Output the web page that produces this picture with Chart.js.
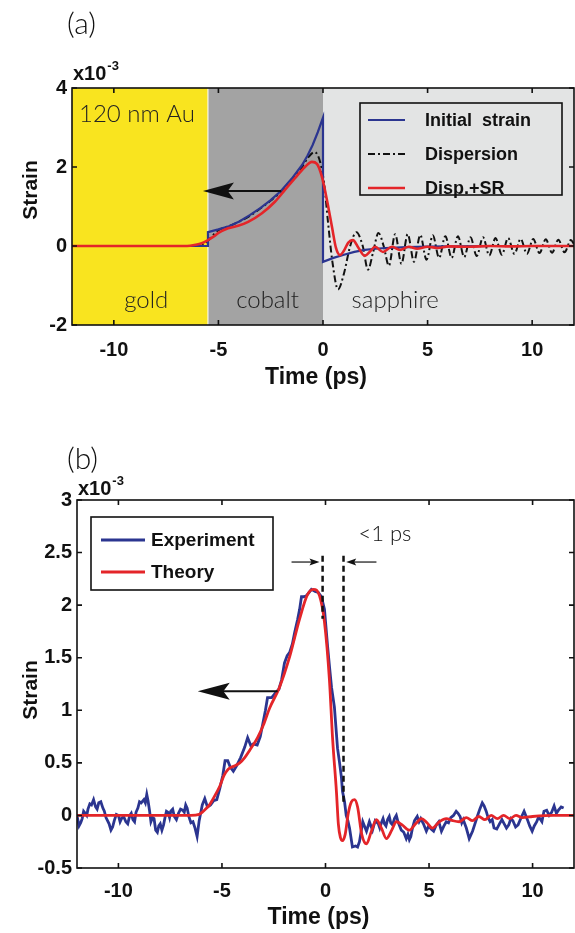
<!DOCTYPE html>
<html lang="en">
<head>
<meta charset="UTF-8">
<title>Strain pulses</title>
<script src="https://cdn.jsdelivr.net/npm/chart.js@4"></script>
<style>
    body { margin: 0; background: #fff; }
    #wrap { position: relative; width: 575px; height: 933px; }
    #wrap canvas { position: absolute; left: 0; }
    #chartA { top: 0; }
    #chartB { top: 440px; }
</style>
</head>
<body>
<div id="wrap">
    <canvas id="chartA" width="575" height="440"></canvas>
    <canvas id="chartB" width="575" height="493"></canvas>
</div>
<script>
// strain values are in units of 1e-3, time in ps
const timeTicks = [-10, -5, 0, 5, 10];
const strainTicksA = [-2, 0, 2, 4];
const strainTicksB = [-0.5, 0, 0.5, 1, 1.5, 2, 2.5, 3];

// panel (a): layers of the sample
const layerNames = ['gold', 'cobalt', 'sapphire'];
const layerEdges = [-12, -5.5, 0, 12];

// panel (a): initial strain
const initT = [-12, -5.5, -5.5, -5, -4.5, -4, -3.5, -3, -2.5, -2, -1.5, -1, -0.75, -0.5, -0.25, 0,
               0, 0.5, 1, 1.5, 2, 2.5, 3, 4, 5, 6, 8, 12];
const initV = [0, 0, 0.35, 0.42, 0.5, 0.62, 0.78, 0.96, 1.16, 1.4, 1.7, 2.05, 2.28, 2.55, 2.88, 3.25,
               -0.4, -0.3, -0.22, -0.15, -0.1, -0.07, -0.05, -0.03, -0.015, -0.01, 0, 0];

// panel (a): dispersion only
const dispT = [-12, -6.0, -5.6, -5.3, -5.0, -4.5, -4.0, -3.5, -3.0, -2.5,
               -2.0, -1.5, -1.0, -0.7, -0.4, -0.15, 0.05, 0.24, 0.45, 0.72,
               1.0, 1.3, 1.6, 1.9, 2.15, 2.4, 2.65, 2.9, 3.15, 3.45,
               3.75, 4.05, 4.35, 4.65, 4.95, 5.25, 5.55, 5.85, 6.15, 6.45,
               6.75, 7.05, 7.35, 7.65, 7.95, 8.25, 8.55, 8.85, 9.15, 9.45,
               9.75, 10.05, 10.35, 10.65, 10.95, 11.25, 11.55, 11.85, 12];
const dispV = [0, 0, 0.08, 0.25, 0.4, 0.5, 0.62, 0.76, 0.95, 1.15,
               1.38, 1.68, 2.0, 2.25, 2.38, 2.15, 1.6, 0.6, -0.4, -1.1,
               -0.7, 0.0, 0.35, 0.0, -0.6, -0.15, 0.33, 0.0, -0.5, 0.3,
               -0.45, 0.3, -0.4, 0.28, -0.35, 0.27, -0.3, 0.25, -0.3, 0.25,
               -0.28, 0.22, -0.25, 0.22, -0.24, 0.2, -0.22, 0.2, -0.2, 0.18,
               -0.2, 0.18, -0.18, 0.17, -0.17, 0.16, -0.16, 0.15, 0.05];

// panel (a): dispersion + surface roughness
const dsrT = [-12, -6.5, -6.1, -5.8, -5.5, -5.2, -5.0, -4.54, -4.06, -3.58,
              -2.92, -2.3, -1.82, -1.34, -0.86, -0.53, -0.29, -0.05, 0.19, 0.43,
              0.62, 0.81, 1.0, 1.2, 1.43, 1.7, 2.0, 2.25, 2.49, 2.87,
              3.3, 3.68, 4.1, 4.5, 5.0, 5.5, 6, 7, 8, 9, 10, 11, 12];
const dsrV = [0, 0, 0.03, 0.07, 0.15, 0.25, 0.33, 0.45, 0.51, 0.61,
              0.83, 1.12, 1.42, 1.72, 2.0, 2.13, 2.08, 1.75, 1.16, 0.48,
              -0.05, -0.23, -0.12, 0.08, 0.15, -0.05, -0.25, -0.14, -0.02, -0.15,
              -0.02, -0.1, -0.02, -0.07, -0.02, -0.05, -0.01, -0.02, 0, -0.01, 0, 0, 0];

// panel (b): experiment
const expT = [-12.0, -11.9, -11.82, -11.75, -11.68, -11.6, -11.53, -11.47, -11.38, -11.3,
              -11.2, -11.1, -11.03, -10.95, -10.85, -10.75, -10.68, -10.6, -10.45, -10.36,
              -10.28, -10.2, -10.1, -10.0, -9.92, -9.85, -9.75, -9.64, -9.55, -9.45,
              -9.38, -9.3, -9.22, -9.15, -9.06, -8.98, -8.9, -8.77, -8.7, -8.63,
              -8.57, -8.5, -8.43, -8.35, -8.28, -8.2, -8.12, -8.05, -7.98, -7.9,
              -7.82, -7.75, -7.68, -7.6, -7.53, -7.47, -7.38, -7.3, -7.2, -7.1,
              -7.0, -6.9, -6.82, -6.75, -6.68, -6.6, -6.5, -6.4, -6.3, -6.2,
              -6.1, -5.95, -5.83, -5.7, -5.55, -5.4, -5.25, -5.1, -4.96, -4.85,
              -4.72, -4.6, -4.45, -4.3, -4.1, -3.9, -3.76, -3.6, -3.5, -3.3,
              -3.15, -3.03, -2.9, -2.8, -2.6, -2.4, -2.25, -2.12, -1.98, -1.85,
              -1.73, -1.6, -1.49, -1.35, -1.25, -1.16, -1.05, -0.92, -0.8, -0.68,
              -0.5, -0.35, -0.2, -0.05, 0.1, 0.2, 0.29, 0.43, 0.58, 0.68,
              0.77, 0.82, 0.92, 1.0, 1.08, 1.16, 1.3, 1.45, 1.55, 1.64,
              1.8, 1.98, 2.12, 2.27, 2.4, 2.55, 2.62, 2.7, 2.78, 2.85,
              2.92, 3.0, 3.08, 3.15, 3.24, 3.33, 3.42, 3.5, 3.58, 3.66,
              3.78, 3.9, 3.98, 4.05, 4.12, 4.2, 4.3, 4.43, 4.52, 4.6,
              4.73, 4.87, 4.98, 5.1, 5.22, 5.35, 5.47, 5.6, 5.72, 5.83,
              5.94, 6.05, 6.18, 6.31, 6.4, 6.5, 6.58, 6.65, 6.8, 6.94,
              7.1, 7.2, 7.33, 7.45, 7.57, 7.66, 7.76, 7.85, 7.95, 8.05,
              8.14, 8.27, 8.4, 8.52, 8.63, 8.74, 8.85, 8.95, 9.05, 9.18,
              9.3, 9.45, 9.59, 9.67, 9.75, 9.86, 9.98, 10.08, 10.2, 10.28,
              10.35, 10.45, 10.55, 10.68, 10.8, 10.92, 11.04, 11.15, 11.25, 11.38,
              11.5];
const expV = [0.0, -0.1, -0.07, -0.03, 0.04, 0.02, 0.0, 0.06, 0.11, 0.1,
              0.15, 0.08, 0.06, 0.12, 0.13, 0.07, 0.04, -0.02, -0.08, -0.14,
              -0.11, -0.05, 0.01, 0.0, -0.06, -0.03, -0.01, -0.06, -0.08, 0.0,
              0.02, -0.04, -0.06, 0.03, 0.07, 0.13, 0.12, 0.15, 0.12, 0.2,
              0.14, 0.05, -0.06, -0.02, -0.03, -0.14, -0.16, -0.1, -0.08, -0.14,
              -0.09, -0.02, 0.04, 0.03, -0.02, 0.04, 0.06, -0.01, -0.04, 0.02,
              0.06, 0.05, 0.03, 0.1, 0.07, -0.01, -0.07, -0.06, -0.12, -0.2,
              -0.05, 0.1, 0.16, 0.08, 0.1, 0.14, 0.15, 0.26, 0.38, 0.52,
              0.52, 0.46, 0.42, 0.47, 0.55, 0.65, 0.74, 0.66, 0.68, 0.67,
              0.75, 0.87, 1.0, 1.12, 1.12, 1.17, 1.2, 1.29, 1.45, 1.52,
              1.55, 1.63, 1.74, 1.86, 1.96, 2.08, 2.08, 2.09, 2.12, 2.15,
              2.13, 2.12, 2.08, 1.96, 1.61, 1.4, 1.22, 1.03, 0.64, 0.5,
              0.36, 0.23, 0.13, 0.0, -0.05, -0.12, -0.3, -0.29, -0.3, -0.25,
              -0.06, -0.15, -0.06, -0.14, -0.05, -0.08, -0.12, -0.07, -0.03, -0.08,
              -0.1, -0.04, -0.01, -0.07, -0.09, -0.03, 0.0, -0.06, -0.1, -0.14,
              -0.16, -0.22, -0.18, -0.23, -0.2, -0.12, -0.05, -0.01, -0.06, -0.03,
              -0.08, -0.15, -0.1, -0.13, -0.15, -0.09, -0.06, -0.15, -0.1, -0.06,
              -0.07, -0.02, 0.0, 0.04, 0.02, -0.01, -0.07, -0.04, -0.12, -0.22,
              -0.15, -0.09, -0.01, 0.06, 0.12, 0.09, 0.04, -0.02, -0.06, -0.04,
              -0.12, -0.13, -0.08, -0.04, -0.08, -0.12, -0.09, -0.03, -0.05, -0.11,
              -0.09, -0.02, 0.04, 0.0, -0.04, -0.1, -0.15, -0.1, -0.06, -0.02,
              -0.03, -0.06, 0.04, 0.05, 0.0, 0.03, 0.09, 0.02, 0.05, 0.08,
              0.07];

// panel (b): theory
const theoT = [-12, -6.5, -6.1, -5.9, -5.6, -5.45, -5.1, -4.9, -4.7, -4.4,
               -4.14, -3.9, -3.66, -3.28, -3.0, -2.7, -2.22, -1.73, -1.25, -0.87,
               -0.58, -0.29, -0.05, 0.19, 0.34, 0.53, 0.62, 0.72, 0.82, 0.95,
               1.1, 1.25, 1.4, 1.55, 1.75, 1.98, 2.2, 2.46, 2.7, 2.94,
               3.2, 3.42, 3.7, 4.05, 4.35, 4.63, 4.9, 5.16, 5.5, 5.83,
               6.15, 6.46, 6.8, 7.1, 7.4, 7.7, 8.0, 8.3, 8.6, 8.9,
               9.2, 9.5, 10, 11, 12];
const theoV = [0, 0, 0.01, 0.04, 0.1, 0.15, 0.28, 0.38, 0.44, 0.47,
               0.5, 0.55, 0.62, 0.74, 0.86, 1.02, 1.22, 1.51, 1.87, 2.1,
               2.15, 2.09, 1.84, 1.29, 0.74, 0.22, -0.08, -0.21, -0.24, -0.18,
               0.02, 0.13, 0.15, 0.08, -0.18, -0.27, -0.16, -0.04, -0.12, -0.22,
               -0.14, -0.06, -0.09, -0.14, -0.08, -0.03, -0.07, -0.12, -0.06, -0.03,
               -0.05, -0.06, -0.02, -0.05, -0.01, -0.04, 0.0, -0.03, 0.0, -0.03,
               0.0, -0.02, -0.01, 0.0, 0.0];

// panel (b): pulse width markers
const markerT = [-0.14, 0.87];
const markerTop = 2.47;
const markerBottom = [1.87, 0.13];

const BLUE = '#2b3590';
const RED = '#e42529';
const INK = '#111';
const layerFill = ['#f9e41f', '#a3a3a3', '#e3e4e4'];
const boldFam = '"Liberation Sans", Arial, sans-serif';
const lightFam = 'Lato, "Open Sans", sans-serif';
const tickFont = { family: boldFam, weight: 'bold', size: 20 };

const pts = (t, v) => t.map((x, i) => ({ x: x, y: v[i] }));

function drawArrow(ctx, xTail, xTip, y, head, half, lw) {
    const dir = Math.sign(xTip - xTail);
    ctx.beginPath();
    ctx.lineWidth = lw;
    ctx.moveTo(xTail, y);
    ctx.lineTo(xTip - dir * head * 0.7, y);
    ctx.stroke();
    ctx.beginPath();
    ctx.moveTo(xTip, y);
    ctx.lineTo(xTip - dir * head, y - half);
    ctx.lineTo(xTip - dir * head * 0.8, y);
    ctx.lineTo(xTip - dir * head, y + half);
    ctx.closePath();
    ctx.fill();
}

function drawFrame(chart, yTicks) {
    const { ctx, chartArea: a, scales: { x, y } } = chart;
    ctx.save();
    ctx.strokeStyle = INK;
    ctx.lineWidth = 1.6;
    ctx.strokeRect(a.left, a.top, a.right - a.left, a.bottom - a.top);
    ctx.beginPath();
    timeTicks.forEach(v => {
        const px = x.getPixelForValue(v);
        ctx.moveTo(px, a.bottom); ctx.lineTo(px, a.bottom - 5);
        ctx.moveTo(px, a.top); ctx.lineTo(px, a.top + 5);
    });
    yTicks.forEach(v => {
        const py = y.getPixelForValue(v);
        ctx.moveTo(a.left, py); ctx.lineTo(a.left + 5, py);
        ctx.moveTo(a.right, py); ctx.lineTo(a.right - 5, py);
    });
    ctx.stroke();
    ctx.restore();
}

function drawAxisText(chart, tag, tagBase, multBase, strainY, timeY) {
    const { ctx, chartArea: a } = chart;
    ctx.save();
    ctx.fillStyle = INK;
    ctx.textBaseline = 'alphabetic';
    ctx.textAlign = 'left';
    ctx.font = '300 30px ' + lightFam;
    ctx.fillText(tag, 67, tagBase);
    ctx.font = 'bold 20px ' + boldFam;
    ctx.fillText('x10', a.left + 1, multBase);
    const w = ctx.measureText('x10').width;
    ctx.font = 'bold 13px ' + boldFam;
    ctx.fillText('-3', a.left + 2 + w, multBase - 10);
    ctx.font = 'bold 23px ' + boldFam;
    ctx.textAlign = 'center';
    ctx.textBaseline = 'middle';
    ctx.fillText('Time (ps)', (a.left + a.right) / 2 - 7, timeY);
    ctx.translate(31, strainY);
    ctx.rotate(-Math.PI / 2);
    ctx.font = 'bold 21px ' + boldFam;
    ctx.fillText('Strain', 0, 0);
    ctx.restore();
}

function drawLegend(chart, bx, by, bw, bh, firstY, stepY, sx0, sx1, tx, font) {
    const { ctx } = chart;
    ctx.save();
    ctx.strokeStyle = INK;
    ctx.lineWidth = 1.6;
    ctx.strokeRect(bx, by, bw, bh);
    ctx.font = font;
    ctx.textBaseline = 'middle';
    ctx.textAlign = 'left';
    chart.data.datasets.forEach((ds, i) => {
        const cy = by + firstY + i * stepY;
        ctx.beginPath();
        ctx.strokeStyle = ds.borderColor;
        ctx.lineWidth = ds.borderWidth;
        ctx.setLineDash(ds.borderDash || []);
        ctx.moveTo(bx + sx0, cy);
        ctx.lineTo(bx + sx1, cy);
        ctx.stroke();
        ctx.setLineDash([]);
        ctx.fillStyle = INK;
        ctx.fillText(ds.label, bx + tx, cy + 1);
    });
    ctx.restore();
}

const panelA = {
    id: 'panelA',
    beforeDatasetsDraw(chart) {
        const { ctx, chartArea: a, scales: { x } } = chart;
        ctx.save();
        layerNames.forEach((n, i) => {
            const x0 = x.getPixelForValue(layerEdges[i]);
            const x1 = x.getPixelForValue(layerEdges[i + 1]);
            ctx.fillStyle = layerFill[i];
            ctx.fillRect(x0, a.top, x1 - x0, a.bottom - a.top);
        });
        const xs = x.getPixelForValue(layerEdges[1]);
        ctx.strokeStyle = '#fff';
        ctx.lineWidth = 1;
        ctx.beginPath();
        ctx.moveTo(xs, a.top); ctx.lineTo(xs, a.bottom);
        ctx.stroke();
        ctx.fillStyle = '#222';
        ctx.font = '300 24px ' + lightFam;
        ctx.textBaseline = 'alphabetic';
        ctx.textAlign = 'left';
        ctx.fillText('120 nm Au', a.left + 7, a.top + 34);
        const labelT = [-8.45, -2.65, 3.45];
        ctx.textAlign = 'center';
        layerNames.forEach((n, i) => {
            ctx.fillText(n, x.getPixelForValue(labelT[i]), a.bottom - 17);
        });
        ctx.restore();
    },
    afterDatasetsDraw(chart) {
        const { ctx, chartArea: a, scales: { x, y } } = chart;
        ctx.save();
        ctx.strokeStyle = INK;
        ctx.fillStyle = INK;
        drawArrow(ctx, x.getPixelForValue(-2.0), x.getPixelForValue(-5.74), y.getPixelForValue(1.39), 31, 8.5, 2);
        ctx.restore();
        drawLegend(chart, a.right - 214, a.top + 15, 202, 92, 17, 34, 8, 45, 65, 'bold 18px ' + boldFam);
        drawFrame(chart, strainTicksA);
        drawAxisText(chart, '(a)', 34, a.top - 8, a.top + 102, 378);
    }
};

const panelB = {
    id: 'panelB',
    afterDatasetsDraw(chart) {
        const { ctx, chartArea: a, scales: { x, y } } = chart;
        ctx.save();
        ctx.strokeStyle = INK;
        ctx.fillStyle = INK;
        ctx.lineWidth = 2.5;
        ctx.setLineDash([6, 4]);
        markerT.forEach((t, i) => {
            ctx.beginPath();
            ctx.moveTo(x.getPixelForValue(t), y.getPixelForValue(markerTop));
            ctx.lineTo(x.getPixelForValue(t), y.getPixelForValue(markerBottom[i]));
            ctx.stroke();
        });
        ctx.setLineDash([]);
        const ya = y.getPixelForValue(2.41);
        drawArrow(ctx, x.getPixelForValue(-1.64), x.getPixelForValue(-0.29), ya, 10, 3.5, 1.2);
        drawArrow(ctx, x.getPixelForValue(2.46), x.getPixelForValue(1.0), ya, 10, 3.5, 1.2);
        ctx.font = '300 22px ' + lightFam;
        ctx.textAlign = 'center';
        ctx.textBaseline = 'middle';
        ctx.fillText('<1 ps', x.getPixelForValue(2.87), y.getPixelForValue(2.68));
        drawArrow(ctx, x.getPixelForValue(-2.31), x.getPixelForValue(-6.17), y.getPixelForValue(1.18), 32, 8.5, 2);
        ctx.restore();
        drawLegend(chart, a.left + 14, a.top + 17, 182, 73, 23, 32, 10, 54, 60, 'bold 19px ' + boldFam);
        drawFrame(chart, strainTicksB);
        drawAxisText(chart, '(b)', 29, a.top - 5, a.top + 190, 478);
    }
};

function makeChart(id, datasets, yMin, yMax, yTicks, box, plugin) {
    return new Chart(document.getElementById(id), {
        type: 'line',
        data: { datasets: datasets },
        options: {
            responsive: false,
            animation: false,
            layout: { padding: { top: box.top, right: 1, left: 0, bottom: 0 } },
            plugins: { legend: { display: false }, tooltip: { enabled: false } },
            elements: { point: { radius: 0 } },
            scales: {
                x: {
                    type: 'linear', min: -12, max: 12,
                    afterBuildTicks: s => { s.ticks = timeTicks.map(v => ({ value: v })); },
                    afterFit: s => { s.height = box.xh; },
                    grid: { display: false, drawTicks: false },
                    border: { display: false },
                    ticks: { font: tickFont, color: INK, padding: box.xpad, maxRotation: 0, autoSkip: false,
                             callback: v => String(v) }
                },
                y: {
                    type: 'linear', min: yMin, max: yMax,
                    afterBuildTicks: s => { s.ticks = yTicks.map(v => ({ value: v })); },
                    afterFit: s => { s.width = box.left; },
                    grid: { display: false, drawTicks: false },
                    border: { display: false },
                    ticks: { font: tickFont, color: INK, padding: 5, autoSkip: false,
                             callback: v => String(v) }
                }
            }
        },
        plugins: [plugin]
    });
}

makeChart('chartA', [
    { label: 'Initial  strain', data: pts(initT, initV), borderColor: BLUE, borderWidth: 2.2, tension: 0, order: 1 },
    { label: 'Dispersion', data: pts(dispT, dispV), borderColor: INK, borderWidth: 2, borderDash: [7, 3, 2, 3],
      cubicInterpolationMode: 'monotone', order: 2 },
    { label: 'Disp.+SR', data: pts(dsrT, dsrV), borderColor: RED, borderWidth: 2.6, cubicInterpolationMode: 'monotone', order: 0 }
], -2, 4, strainTicksA, { top: 88, xh: 115, left: 72, xpad: 13 }, panelA);

makeChart('chartB', [
    { label: 'Experiment', data: pts(expT, expV), borderColor: BLUE, borderWidth: 2.8, tension: 0, order: 1 },
    { label: 'Theory', data: pts(theoT, theoV), borderColor: RED, borderWidth: 2.8, cubicInterpolationMode: 'monotone', order: 0 }
], -0.5, 3, strainTicksB, { top: 60, xh: 65, left: 77, xpad: 11 }, panelB);
</script>
</body>
</html>
